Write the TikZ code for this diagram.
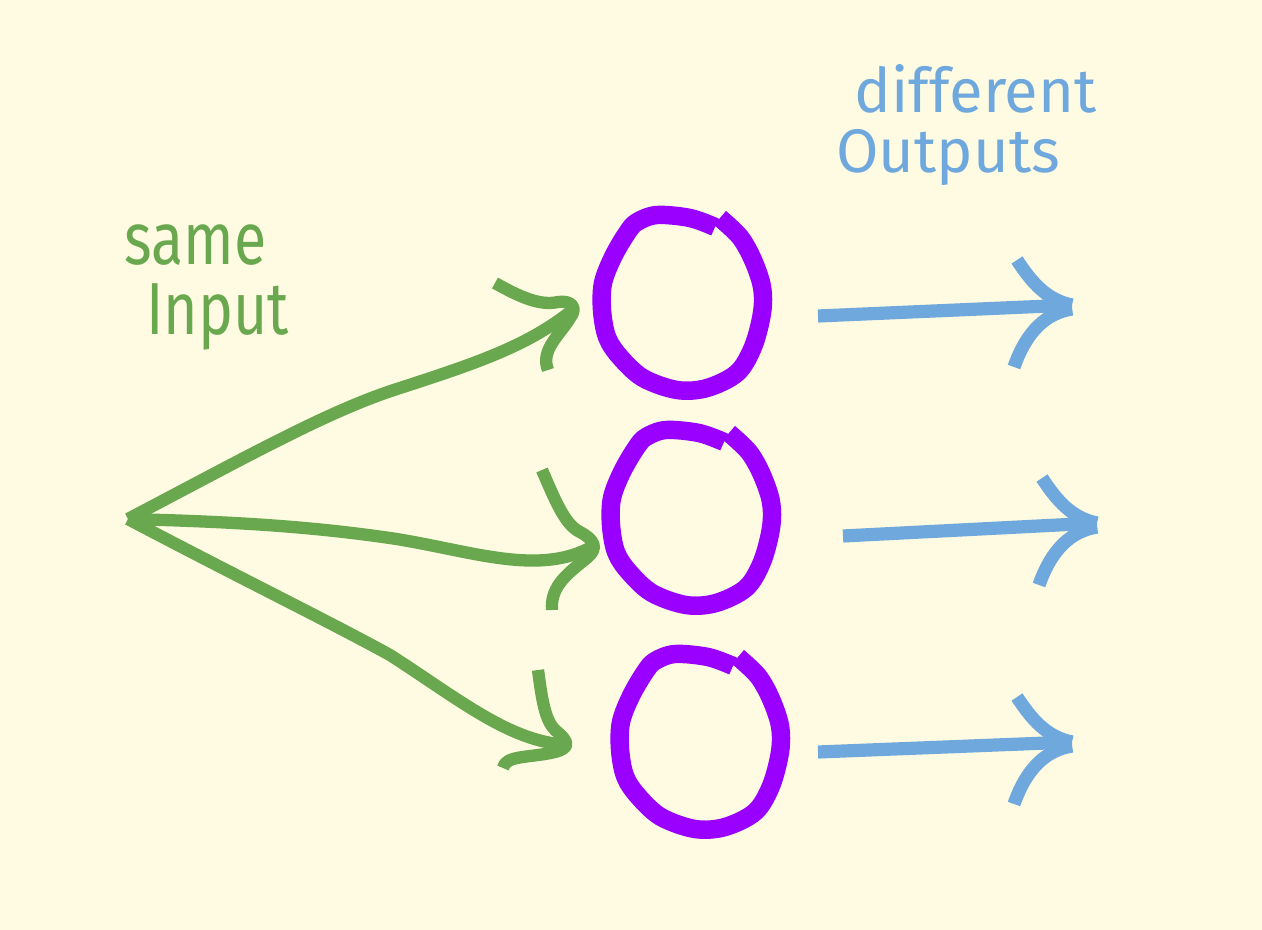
\documentclass[tikz,border=0pt]{standalone}
\usepackage{fontspec}
\newfontfamily\handfont[FakeStretch=0.8]{Fira Sans}
\newfontfamily\outfont{Fira Sans}
\usetikzlibrary{shapes.geometric}
\usetikzlibrary{calc}

\begin{document}
\begin{tikzpicture}[x=0.02cm,y=-0.02cm,line cap=butt,line join=round,
	neuron/.style={ellipse,minimum width=3.2cm,minimum height=3.5cm,inner sep=0pt},
	cell line/.style={draw=cellpurple,line width=10.5pt},
	input/.style={draw=ingreen,line width=7pt},
	output/.style={draw=outblue,line width=7.5pt}]
	
	\definecolor{paper}{RGB}{254,251,226}
	\definecolor{ingreen}{RGB}{106,168,79}
	\definecolor{outblue}{RGB}{111,168,220}
	\definecolor{cellpurple}{RGB}{153,0,255}
	
	\fill[paper] (0,0) rectangle (1262,930);
	
	% the three cells
	\node[neuron] (n1) at (682,302) {};
	\node[neuron] (n2) at (691,517) {};
	\node[neuron] (n3) at (700,741) {};
	\foreach \n in {n1,n2,n3}
	\draw[cell line,shift={(\n)}] plot[smooth,tension=0.55] coordinates {
		(33,-75) (8,-84) (-25,-87) (-45,-80) (-55,-69) (-69,-45) (-79,-19)
		(-80,8) (-75,35) (-62,55) (-39,76) (-5,88) (25,86) (55,71) (71,45)
		(80,11) (80,-15) (71,-42) (58,-65) (38,-84)};
	
	% input side
	\coordinate (in) at (128,519);
	\coordinate (g1) at ($(n1)+(-107,6)$);
	\coordinate (g2) at ($(n2)+(-96,28)$);
	\coordinate (g3) at ($(n3)+(-132,4)$);
	
	\draw[input] (in) .. controls (250,455) and (330,410) .. (400,388)
		.. controls (480,362) and (530,345) .. (g1);
	\draw[input] (in) .. controls (250,522) and (320,528) .. (390,538)
		.. controls (470,550) and (540,578) .. (g2);
	\draw[input] (in) .. controls (240,578) and (330,622) .. (390,655)
		.. controls (460,700) and (510,742) .. (g3);
	
	\draw[input,shift={(g1)}] (-80,-25) .. controls (-55,-11) and (-35,-2) .. (-17,-6)
		.. controls (-3,-8) and (3,0) .. (-5,10) .. controls (-15,27) and (-35,42) .. (-27,62);
	\draw[input,shift={(g2)}] (-53,-75) .. controls (-40,-45) and (-30,-20) .. (-15,-13)
		.. controls (0,-5) and (3,3) .. (-7,12) .. controls (-25,27) and (-45,40) .. (-43,65);
	\draw[input,shift={(g3)}] (-30,-75) .. controls (-26,-45) and (-23,-25) .. (-13,-15)
		.. controls (2,-3) and (2,3) .. (-13,7) .. controls (-38,13) and (-63,10) .. (-65,23);
	
	% output side
	\coordinate (a1) at (818,316);
	\coordinate (b1) at (1072,305);
	\coordinate (a2) at (843,536);
	\coordinate (b2) at (1097,523);
	\coordinate (a3) at (818,752);
	\coordinate (b3) at (1072,742);
	
	\draw[output] (a1) -- (b1);
	\draw[output] (a2) -- (b2);
	\draw[output] (a3) -- (b3);
	\foreach \t in {b1,b2,b3}
	\draw[output,shift={(\t)}] (-55,-45) .. controls (-40,-22) and (-25,-5) .. (0,0)
		(0,4) .. controls (-25,8) and (-45,25) .. (-58,62);
	
	% labels
	\node[text=ingreen,font=\handfont\fontsize{42}{40}\selectfont,align=left,
		anchor=north west,inner sep=0pt] (same) at (124,224) {same\\\hspace{0.3em}Input};
	\node[text=outblue,font=\outfont\fontsize{35}{34}\selectfont,align=left,
		anchor=north west,inner sep=0pt] (diff) at (836,64) {\hspace{0.3em}different\\Outputs};
\end{tikzpicture}
\end{document}
